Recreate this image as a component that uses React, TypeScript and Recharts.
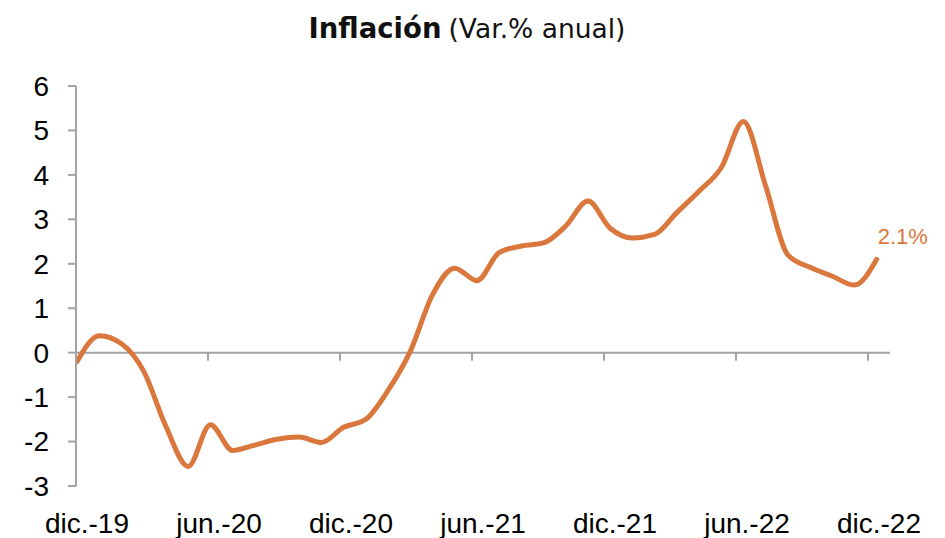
import { Line, LineChart, ReferenceLine, XAxis, YAxis } from "recharts";

// meses dic.-19 ... dic.-22
const MONTHS = [
  "dic.-19", "ene.-20", "feb.-20", "mar.-20", "abr.-20", "may.-20", "jun.-20",
  "jul.-20", "ago.-20", "sep.-20", "oct.-20", "nov.-20", "dic.-20",
  "ene.-21", "feb.-21", "mar.-21", "abr.-21", "may.-21", "jun.-21",
  "jul.-21", "ago.-21", "sep.-21", "oct.-21", "nov.-21", "dic.-21",
  "ene.-22", "feb.-22", "mar.-22", "abr.-22", "may.-22", "jun.-22",
  "jul.-22", "ago.-22", "sep.-22", "oct.-22", "nov.-22", "dic.-22",
];

// Var.% anual
const INFLACION = [
  -0.2, 0.38, 0.2, -0.42, -1.66, -2.56, -1.62, -2.2, -2.08, -1.95, -1.9, -2.02,
  -1.68, -1.5, -0.85, 0.03, 1.3, 1.9, 1.62, 2.25, 2.4, 2.47, 2.85, 3.41, 2.8,
  2.58, 2.66, 3.15, 3.63, 4.16, 5.2, 3.75, 2.2, 1.92, 1.72, 1.52, 2.1,
];

const Y_TICKS = [-3, -2, -1, 0, 1, 2, 3, 4, 5, 6];
const LABEL_TICKS = [0, 6, 12, 18, 24, 30, 36];
const TICK_MARKS = [-0.5, 5.5, 11.5, 17.5, 23.5, 29.5, 35.5];

const ORANGE = "#D9773D";
const GRAY = "#A3A3A3";
const AXIS_FONT = "'Liberation Sans', Arial, sans-serif";
const TITLE_FONT = "'DejaVu Sans', sans-serif";

const data = INFLACION.map((v, i) => ({ t: i, mes: MONTHS[i], v }));
const lastIdx = data.length - 1;

function LastLabel(props: any) {
  const { x, y, index, value } = props;
  if (index !== lastIdx) return null;
  return (
    <text x={x + 1} y={y - 15} fill={ORANGE} fontSize={22} fontFamily={AXIS_FONT}>
      {`${Number(value).toFixed(1)}%`}
    </text>
  );
}

export default function App() {
  return (
    <div style={{ position: "absolute", left: 0, top: 0, width: 945, height: 538, background: "#fff" }}>
      <style>{"body{margin:0}"}</style>
      <svg width={945} height={60} style={{ position: "absolute", left: 0, top: 0 }}>
        <text x={467} y={38} textAnchor="middle" fill="#111" fontFamily={TITLE_FONT}>
          <tspan fontSize={27.5} fontWeight={700}>Inflación</tspan>
          <tspan dx={7} fontSize={26.5}>(Var.% anual)</tspan>
        </text>
      </svg>
      <LineChart
        width={945}
        height={538}
        data={data}
        margin={{ top: 86, right: 55, bottom: 0, left: 0 }}
      >
        <XAxis xAxisId="line" dataKey="t" type="number" domain={[-0.05, 36.6]} allowDataOverflow hide />
        <XAxis
          xAxisId="lab"
          dataKey="t"
          type="number"
          domain={[-0.5, 36.5]}
          allowDataOverflow
          ticks={LABEL_TICKS}
          interval={0}
          tickFormatter={(t: number) => MONTHS[t] ?? ""}
          axisLine={false}
          tickLine={false}
          tickSize={0}
          tickMargin={27}
          height={52}
          tick={{ fill: "#000", fontSize: 28, fontFamily: AXIS_FONT }}
        />
        <YAxis
          domain={[-3, 6]}
          ticks={Y_TICKS}
          interval={0}
          width={76}
          axisLine={{ stroke: GRAY, strokeWidth: 2 }}
          tickLine={{ stroke: GRAY, strokeWidth: 2 }}
          tickSize={8}
          tickMargin={19}
          tick={{ fill: "#000", fontSize: 28, fontFamily: AXIS_FONT }}
        />
        <ReferenceLine xAxisId="lab" y={0} stroke={GRAY} strokeWidth={2} />
        {TICK_MARKS.map((t) => (
          <ReferenceLine
            key={t}
            xAxisId="lab"
            segment={[{ x: t, y: 0 }, { x: t, y: -0.18 }]}
            stroke={GRAY}
            strokeWidth={2}
          />
        ))}
        <Line
          xAxisId="line"
          type="monotone"
          dataKey="v"
          stroke={ORANGE}
          strokeWidth={5}
          strokeLinecap="round"
          dot={false}
          activeDot={false}
          label={<LastLabel />}
          isAnimationActive={false}
        />
      </LineChart>
    </div>
  );
}
